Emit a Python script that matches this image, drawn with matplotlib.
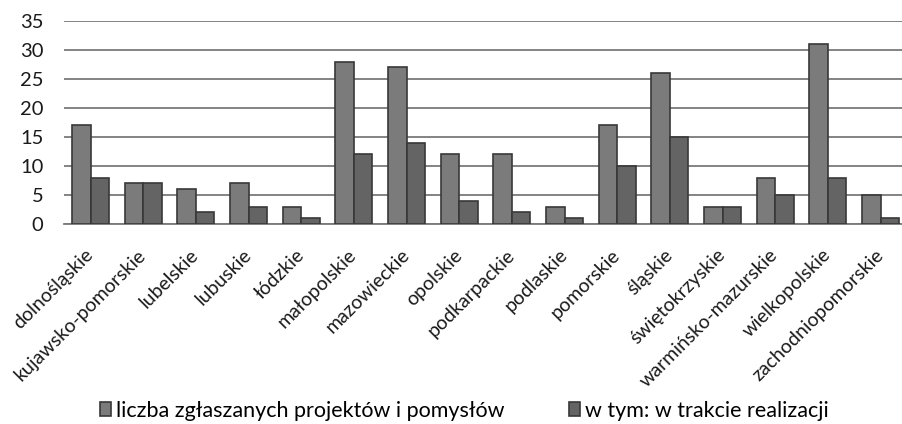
import matplotlib
matplotlib.use("Agg")
import matplotlib.pyplot as plt
import matplotlib.transforms as mtransforms
import numpy as np

plt.rcParams['font.family'] = ['Lato', 'DejaVu Sans']

regions = ["dolnośląskie", "kujawsko-pomorskie", "lubelskie", "lubuskie", "łódzkie",
           "małopolskie", "mazowieckie", "opolskie", "podkarpackie", "podlaskie",
           "pomorskie", "śląskie", "świętokrzyskie", "warmińsko-mazurskie",
           "wielkopolskie", "zachodniopomorskie"]
zgloszone = [17, 7, 6, 7, 3, 28, 27, 12, 12, 3, 17, 26, 3, 8, 31, 5]
w_realizacji = [8, 7, 2, 3, 1, 12, 14, 4, 2, 1, 10, 15, 3, 5, 8, 1]
series_names = ["liczba zgłaszanych projektów i pomysłów", "w tym: w trakcie realizacji"]
y_ticks = [0, 5, 10, 15, 20, 25, 30, 35]

fig = plt.figure(figsize=(9.02, 4.24), dpi=100)
ax = fig.add_axes([0.0712, 0.4717, 0.9343, 0.4788])

x = np.arange(len(regions))
w = 0.352
ax.bar(x - w / 2, zgloszone, width=w, color="#7b7b7b", edgecolor="#383838",
       linewidth=1.2, label=series_names[0], zorder=3)
ax.bar(x + w / 2, w_realizacji, width=w, color="#646464", edgecolor="#383838",
       linewidth=1.2, label=series_names[1], zorder=3)

ax.set_xlim(-0.5, len(regions) - 0.5)
ax.set_ylim(0, 35)
ax.set_yticks(y_ticks)
ax.yaxis.grid(True, color="#7a7a7a", linewidth=1.3, zorder=0)
ax.set_axisbelow(True)
for s in ["top", "right", "left"]:
    ax.spines[s].set_visible(False)
ax.spines["bottom"].set_color("#7a7a7a")
ax.spines["bottom"].set_linewidth(1.3)
ax.tick_params(axis="both", length=0, colors="#1a1a1a")
ax.tick_params(axis="y", pad=15, labelsize=14.5)
ax.set_xticks(x)
ax.set_xticklabels(regions, rotation=45, ha="right", fontsize=14)
ax.tick_params(axis="x", pad=16)
shift = mtransforms.ScaledTranslation(6 / 100, 0, fig.dpi_scale_trans)
for lbl in ax.get_xticklabels():
    lbl.set_transform(lbl.get_transform() + shift)

leg = fig.legend(loc="lower center", bbox_to_anchor=(0.515, -0.038), ncol=2, frameon=False,
                 prop={"family": ["Lato", "DejaVu Sans"], "size": 15.5},
                 handlelength=0.5, handleheight=0.65,
                 handletextpad=0.25, columnspacing=3.0)
for h in leg.legend_handles:
    h.set_edgecolor("#383838")

fig.savefig("out.png", dpi=100)
